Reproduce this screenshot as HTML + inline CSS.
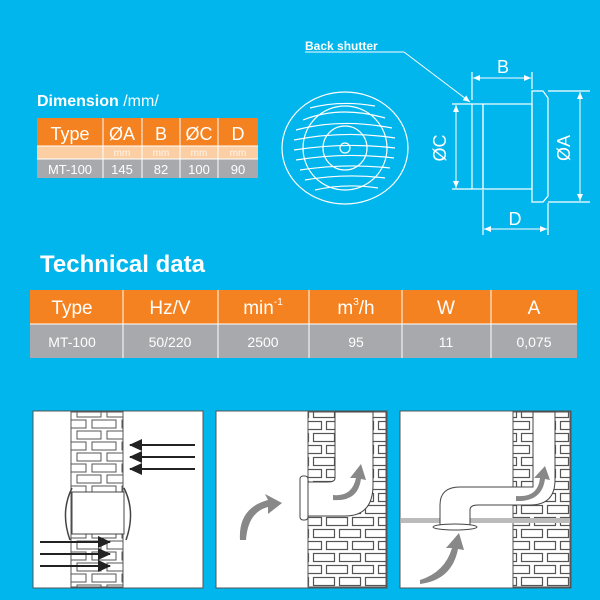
<!DOCTYPE html>
<html><head><meta charset="utf-8"><style>
html,body{margin:0;padding:0;background:#00b6ec;}
svg{display:block}
text{font-family:"Liberation Sans",sans-serif;}
</style></head><body>
<svg width="600" height="600" viewBox="0 0 600 600" xmlns="http://www.w3.org/2000/svg">
<defs>
<pattern id="brick" x="0" y="0" width="30" height="22" patternUnits="userSpaceOnUse">
<rect width="30" height="22" fill="#fff"/>
<rect x="2" y="2" width="24" height="8" fill="none" stroke="#555" stroke-width="1"/>
<rect x="-13" y="13" width="24" height="8" fill="none" stroke="#555" stroke-width="1"/>
<rect x="17" y="13" width="24" height="8" fill="none" stroke="#555" stroke-width="1"/>
</pattern>
<pattern id="brick2" x="0" y="0" width="26" height="24" patternUnits="userSpaceOnUse">
<rect width="26" height="24" fill="#fff"/>
<rect x="1.5" y="1.5" width="21" height="8" fill="none" stroke="#555" stroke-width="1.2"/>
<rect x="-11.5" y="13.5" width="21" height="8" fill="none" stroke="#555" stroke-width="1.2"/>
<rect x="14.5" y="13.5" width="21" height="8" fill="none" stroke="#555" stroke-width="1.2"/>
</pattern>
<marker id="ah" markerWidth="8" markerHeight="8" refX="7" refY="4" orient="auto" markerUnits="userSpaceOnUse"><path d="M0,1 L7,4 L0,7z" fill="#fff"/></marker>
<marker id="ah2" markerWidth="8" markerHeight="8" refX="7" refY="4" orient="auto-start-reverse" markerUnits="userSpaceOnUse"><path d="M0,1 L7,4 L0,7z" fill="#fff"/></marker>
<marker id="dk" markerWidth="14" markerHeight="12" refX="12" refY="6" orient="auto" markerUnits="userSpaceOnUse"><path d="M0,0 L13,6 L0,12z" fill="#222"/></marker>
</defs>
<rect width="600" height="600" fill="#00b6ec"/>

<!-- Dimension -->
<text x="37" y="106" font-size="16" font-weight="bold" fill="#fff">Dimension <tspan font-weight="normal">/mm/</tspan></text>
<rect x="37" y="118" width="221" height="28" fill="#f58220"/>
<rect x="37" y="146" width="221" height="13" fill="#fbcfa3"/>
<rect x="37" y="159" width="221" height="19" fill="#a7a9ac"/>
<g stroke="#fff" stroke-width="1">
<line x1="103" y1="118" x2="103" y2="178"/><line x1="142" y1="118" x2="142" y2="178"/>
<line x1="180" y1="118" x2="180" y2="178"/><line x1="218" y1="118" x2="218" y2="178"/>
<line x1="37" y1="146" x2="258" y2="146"/><line x1="37" y1="159" x2="258" y2="159"/>
</g>
<g fill="#fff" font-size="18" text-anchor="middle">
<text x="70" y="140">Type</text><text x="122" y="140">ØA</text><text x="161" y="140">B</text><text x="199" y="140">ØC</text><text x="238" y="140">D</text>
</g>
<g fill="#fff" font-size="10" text-anchor="middle" opacity="0.8">
<text x="122" y="156">mm</text><text x="161" y="156">mm</text><text x="199" y="156">mm</text><text x="238" y="156">mm</text>
</g>
<g fill="#fff" font-size="13" text-anchor="middle">
<text x="70" y="174">MT-100</text><text x="122" y="174">145</text><text x="161" y="174">82</text><text x="199" y="174">100</text><text x="238" y="174">90</text>
</g>

<!-- Drawing -->
<text x="305" y="50" font-size="12" font-weight="bold" fill="#fff">Back shutter</text>
<line x1="305" y1="52" x2="404" y2="52" stroke="#fff" stroke-width="1"/>
<line x1="404" y1="52" x2="470" y2="102" stroke="#fff" stroke-width="1" marker-end="url(#ah)"/>
<g fill="none" stroke="#fff" stroke-width="1.2">
<ellipse cx="345" cy="148" rx="63" ry="56"/>
<circle cx="345" cy="148" r="42"/>
<circle cx="345" cy="148" r="22"/>
<circle cx="345" cy="148" r="5"/>
<path d="M303,120 Q340,105 385,118 M296,130 Q340,118 392,128 M294,140 Q345,130 395,138 M294,150 Q345,142 395,148 M296,160 Q345,152 394,158 M300,170 Q345,163 390,168 M305,180 Q345,173 385,178"/>
<path d="M310,108 Q340,100 375,106 M315,190 Q345,183 378,188"/>
<rect x="472" y="104" width="11" height="85"/>
<rect x="483" y="104" width="49" height="85"/>
<path d="M532,91 L543,91 L548,98 L548,196 L543,202 L532,202 Z"/>
<line x1="472" y1="100" x2="472" y2="72"/><line x1="532" y1="89" x2="532" y2="72"/>
<line x1="452" y1="104" x2="472" y2="104"/><line x1="452" y1="189" x2="472" y2="189"/>
<line x1="548" y1="91" x2="590" y2="91"/><line x1="548" y1="202" x2="590" y2="202"/>
<line x1="483" y1="190" x2="483" y2="235"/><line x1="548" y1="203" x2="548" y2="235"/>
</g>
<g stroke="#fff" stroke-width="1">
<line x1="473" y1="78" x2="531" y2="78" marker-start="url(#ah2)" marker-end="url(#ah2)"/>
<line x1="456" y1="105" x2="456" y2="188" marker-start="url(#ah2)" marker-end="url(#ah2)"/>
<line x1="580" y1="92" x2="580" y2="201" marker-start="url(#ah2)" marker-end="url(#ah2)"/>
<line x1="484" y1="229" x2="547" y2="229" marker-start="url(#ah2)" marker-end="url(#ah2)"/>
</g>
<g fill="#fff" font-size="18" text-anchor="middle">
<text x="503" y="73">B</text><text x="515" y="225">D</text>
<text transform="translate(446,148) rotate(-90)">ØC</text>
<text transform="translate(570,148) rotate(-90)">ØA</text>
</g>

<!-- Technical data -->
<text x="40" y="272" font-size="24" font-weight="bold" fill="#fff">Technical data</text>
<rect x="30" y="290" width="547" height="34" fill="#f58220"/>
<rect x="30" y="324" width="547" height="34" fill="#a7a9ac"/>
<g stroke="#fff" stroke-width="1">
<line x1="30" y1="324" x2="577" y2="324"/>
<line x1="123" y1="290" x2="123" y2="358"/><line x1="218" y1="290" x2="218" y2="358"/>
<line x1="309" y1="290" x2="309" y2="358"/><line x1="402" y1="290" x2="402" y2="358"/>
<line x1="491" y1="290" x2="491" y2="358"/>
</g>
<g fill="#fff" font-size="19" text-anchor="middle">
<text x="72" y="314">Type</text><text x="170" y="314">Hz/V</text>
<text x="263" y="314">min<tspan font-size="10" dy="-9">-1</tspan></text>
<text x="356" y="314">m<tspan font-size="10" dy="-9">3</tspan><tspan dy="9">/h</tspan></text>
<text x="446" y="314">W</text><text x="534" y="314">A</text>
</g>
<g fill="#fff" font-size="14" text-anchor="middle">
<text x="72" y="347">MT-100</text><text x="170" y="347">50/220</text><text x="263" y="347">2500</text>
<text x="356" y="347">95</text><text x="446" y="347">11</text><text x="534" y="347">0,075</text>
</g>

<!-- Panel 1 -->
<rect x="33" y="411" width="170" height="177" fill="#fff" stroke="#555"/>
<rect x="71" y="412" width="52" height="175" fill="url(#brick)" stroke="#555"/>
<rect x="72" y="492" width="52" height="42" fill="#fff" stroke="#444"/>
<path d="M72,488 Q60,512 70,540 M124,488 Q136,512 126,540" fill="none" stroke="#444" stroke-width="1.5"/>
<g stroke="#222" stroke-width="2">
<line x1="195" y1="445" x2="130" y2="445" marker-end="url(#dk)"/>
<line x1="195" y1="457" x2="130" y2="457" marker-end="url(#dk)"/>
<line x1="195" y1="469" x2="130" y2="469" marker-end="url(#dk)"/>
<line x1="40" y1="542" x2="110" y2="542" marker-end="url(#dk)"/>
<line x1="40" y1="554" x2="110" y2="554" marker-end="url(#dk)"/>
<line x1="40" y1="566" x2="110" y2="566" marker-end="url(#dk)"/>
</g>

<!-- Panel 2 -->
<rect x="216" y="411" width="171" height="177" fill="#fff" stroke="#555"/>
<rect x="308" y="412" width="78" height="175" fill="url(#brick2)" stroke="#555"/>
<path d="M335,412 L335,478 Q335,482 328,482 L308,482 L308,516 L345,516 Q373,516 373,485 L373,412 Z" fill="#fff" stroke="#444"/>
<rect x="300" y="476" width="8" height="44" rx="3" fill="#fff" stroke="#444"/>
<path d="M240,540 Q238,508 268,500 L265,494 L282,503 L268,514 L268,507 Q248,512 246,540 Z" fill="#888"/>
<path d="M333,495 Q352,497 356,478 L350,478 L361,464 L366,480 L361,479 Q358,502 333,500 Z" fill="#888"/>

<!-- Panel 3 -->
<rect x="400" y="411" width="171" height="177" fill="#fff" stroke="#555"/>
<rect x="513" y="412" width="57" height="175" fill="url(#brick2)" stroke="#555"/>
<rect x="401" y="518" width="169" height="5" fill="#bbb"/>
<path d="M533,412 L533,487 L460,487 Q440,487 440,505 L440,525 L470,525 L470,510 Q470,505 478,505 L530,505 Q555,505 555,480 L555,412 Z" fill="#fff" stroke="#444"/>
<ellipse cx="455" cy="527" rx="22" ry="3" fill="#fff" stroke="#444"/>
<path d="M420,580 Q445,572 452,548 L446,548 L459,533 L464,550 L458,549 Q452,580 420,584 Z" fill="#888"/>
<path d="M516,496 Q538,498 540,478 L534,478 L545,466 L550,480 L545,479 Q542,502 516,501 Z" fill="#888"/>
</svg>
</body></html>
